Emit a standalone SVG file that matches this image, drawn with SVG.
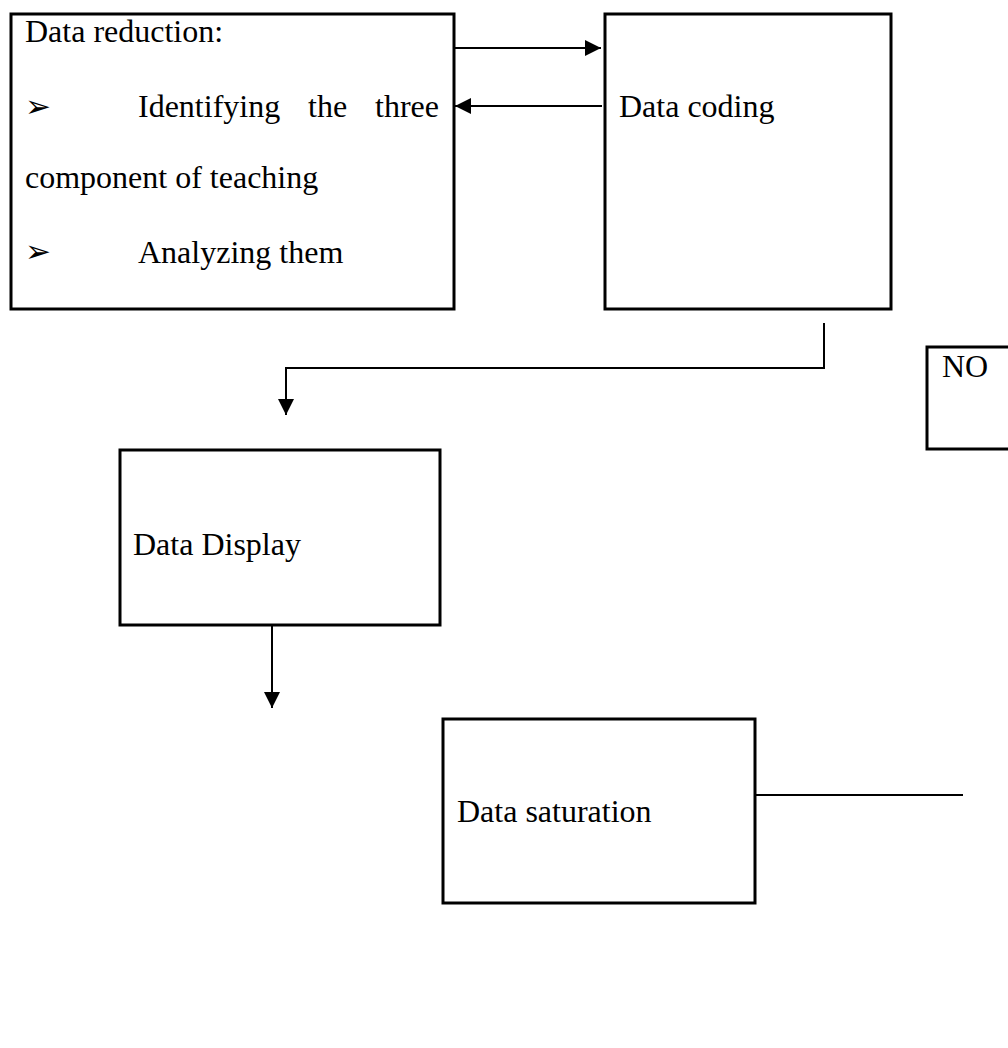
<svg xmlns="http://www.w3.org/2000/svg" width="1008" height="1048" viewBox="0 0 1008 1048">
<style>
.box{fill:#fff;stroke:#000;stroke-width:3}
.t{font-family:"Liberation Serif","Times New Roman",serif;font-size:32px;fill:#000}
.b{font-family:"DejaVu Sans",sans-serif;font-size:31px;fill:#000}
.c{fill:none;stroke:#000;stroke-width:2}
</style>
<defs>
<marker id="ah" markerWidth="16" markerHeight="16" refX="16" refY="8" orient="auto" markerUnits="userSpaceOnUse">
<path d="M0,0 L16,8 L0,16 Z" fill="#000"/>
</marker>
</defs>
<rect width="1008" height="1048" fill="#fff"/>
<g id="connectors">
<line class="c" x1="455" y1="48" x2="601" y2="48" marker-end="url(#ah)"/>
<line class="c" x1="602" y1="106" x2="455" y2="106" marker-end="url(#ah)"/>
<polyline class="c" points="824,323 824,368 286,368 286,415" marker-end="url(#ah)"/>
<line class="c" x1="272" y1="624" x2="272" y2="708" marker-end="url(#ah)"/>
<line class="c" x1="755" y1="795" x2="963" y2="795"/>
</g>
<g id="data-reduction">
<rect class="box" x="11" y="14" width="443" height="295"/>
<text class="t" x="25" y="42">Data reduction:</text>
<text class="b" x="25" y="117">➢</text>
<text class="t" x="138" y="117">Identifying</text>
<text class="t" x="308" y="117">the</text>
<text class="t" x="439" y="117" text-anchor="end">three</text>
<text class="t" x="25" y="188">component of teaching</text>
<text class="b" x="25" y="262">➢</text>
<text class="t" x="138" y="263">Analyzing them</text>
</g>
<g id="data-coding">
<rect class="box" x="605" y="14" width="286" height="295"/>
<text class="t" x="619" y="117">Data coding</text>
</g>
<g id="no">
<rect class="box" x="927" y="347" width="90" height="102"/>
<text class="t" x="942" y="377">NO</text>
</g>
<g id="data-display">
<rect class="box" x="120" y="450" width="320" height="175"/>
<text class="t" x="133" y="555">Data Display</text>
</g>
<g id="data-saturation">
<rect class="box" x="443" y="719" width="312" height="184"/>
<text class="t" x="457" y="822">Data saturation</text>
</g>
</svg>
